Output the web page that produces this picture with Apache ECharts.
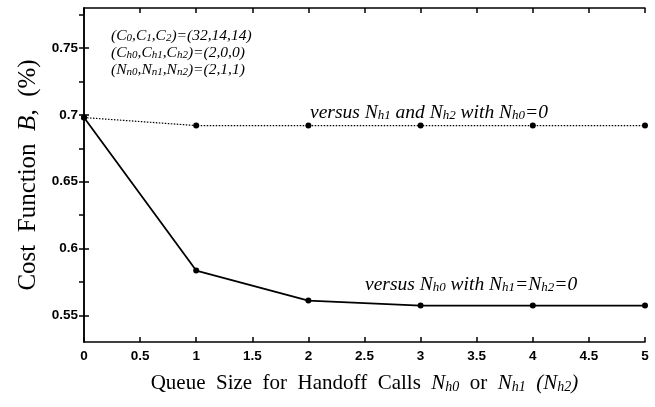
<!DOCTYPE html>
<html style="height: 100%">
<head>
  <meta charset="utf-8">
</head>
<body style="height: 100%; margin: 0; background: #fff">
  <div id="container" style="width: 655px; height: 407px"></div>
  <script type="text/javascript" src="https://cdn.jsdelivr.net/npm/echarts@6/dist/echarts.min.js"></script>
  <script type="text/javascript">
    // queue size for handoff calls
    var queueSizes = [0, 1, 2, 3, 4, 5];
    // cost function B (%) versus Nh1 and Nh2 with Nh0 = 0
    var costVsNh12 = [0.698, 0.692, 0.692, 0.692, 0.692, 0.692];
    // cost function B (%) versus Nh0 with Nh1 = Nh2 = 0
    var costVsNh0 = [0.698, 0.5835, 0.561, 0.5573, 0.5573, 0.5573];
    var yTicks = [0.55, 0.6, 0.65, 0.7, 0.75];
    var yMinorTicks = [0.55, 0.575, 0.6, 0.625, 0.65, 0.675, 0.7, 0.725, 0.75, 0.775];

    var dom = document.getElementById('container');
    var myChart = echarts.init(dom, null, { renderer: 'canvas' });

    var serif = '"Liberation Serif", "DejaVu Serif", serif';
    var tickFont = { fontFamily: '"Liberation Sans", Arial, sans-serif', fontWeight: 'bold', fontSize: 13.5, color: '#000' };

    var option = {
      animation: false,
      backgroundColor: '#fff',
      grid: { left: 84, right: 10, top: 8, bottom: 65 },
      xAxis: [{
        type: 'value', min: 0, max: 5, interval: 0.5,
        axisLine: { lineStyle: { color: '#000', width: 1.5 } },
        axisTick: { inside: true, length: 5, lineStyle: { color: '#000', width: 1.5 } },
        axisLabel: Object.assign({ margin: 7 }, tickFont),
        splitLine: { show: false },
        name: '{t|Queue  Size  for  Handoff  Calls  }{i|N}{s|h0}{t|  or  }{i|N}{s|h1}{i|  (N}{s|h2}{i|)}',
        nameLocation: 'middle', nameGap: 31,
        nameTextStyle: {
          rich: {
            t: { fontFamily: serif, fontSize: 21, color: '#000' },
            i: { fontFamily: serif, fontStyle: 'italic', fontSize: 21, color: '#000' },
            s: { fontFamily: serif, fontStyle: 'italic', fontSize: 14, color: '#000', padding: [7, 0, 0, 0] }
          }
        }
      }, {
        type: 'value', position: 'top', min: 0, max: 5, interval: 0.5,
        axisLine: { lineStyle: { color: '#000', width: 1.5 } },
        axisTick: { inside: true, length: 5, lineStyle: { color: '#000', width: 1.5 } },
        axisLabel: { show: false }, splitLine: { show: false }
      }],
      yAxis: [{
        type: 'value', min: 0.53, max: 0.78,
        axisLine: { lineStyle: { color: '#000', width: 1.5 } },
        axisTick: { inside: true, length: 5, lineStyle: { color: '#000', width: 1.5 }, customValues: yTicks },
        axisLabel: Object.assign({ margin: 6, customValues: yTicks }, tickFont),
        splitLine: { show: false },
        name: '{t|Cost  Function  }{i|B}{t|,  (%)}',
        nameLocation: 'middle', nameGap: 42,
        nameTextStyle: {
          rich: {
            t: { fontFamily: serif, fontSize: 25, color: '#000' },
            i: { fontFamily: serif, fontStyle: 'italic', fontSize: 25, color: '#000' }
          }
        }
      }, {
        type: 'value', position: 'right', min: 0.53, max: 0.78,
        axisLine: { lineStyle: { color: '#000', width: 1.5 } },
        axisTick: { inside: true, length: 5, lineStyle: { color: '#000', width: 1.5 }, customValues: yMinorTicks },
        axisLabel: { show: false }, splitLine: { show: false }
      }],
      series: [{
        type: 'line',
        data: queueSizes.map(function (x, i) { return [x, costVsNh12[i]]; }),
        symbol: 'circle', symbolSize: 6,
        lineStyle: { color: '#000', width: 1.2, type: [1.5, 1.5] },
        itemStyle: { color: '#000' }
      }, {
        type: 'line',
        data: queueSizes.map(function (x, i) { return [x, costVsNh0[i]]; }),
        symbol: 'circle', symbolSize: 6,
        lineStyle: { color: '#000', width: 1.8 },
        itemStyle: { color: '#000' }
      }],
      graphic: [{
        type: 'text', left: 111, top: 28,
        style: {
          text: '{i|(C}{s|0}{i|,C}{s|1}{i|,C}{s|2}{i|)=(32,14,14)}\n{i|(C}{s|h0}{i|,C}{s|h1}{i|,C}{s|h2}{i|)=(2,0,0)}\n{i|(N}{s|n0}{i|,N}{s|n1}{i|,N}{s|n2}{i|)=(2,1,1)}',
          rich: {
            i: { fontFamily: serif, fontStyle: 'italic', fontSize: 15.5, lineHeight: 17, fill: '#000' },
            s: { fontFamily: serif, fontStyle: 'italic', fontSize: 11, lineHeight: 17, fill: '#000', padding: [4, 0, 0, 0] }
          }
        }
      }, {
        type: 'text', left: 310, top: 103,
        style: {
          text: '{i|versus N}{s|h1}{i| and N}{s|h2}{i| with N}{s|h0}{i|=0}',
          rich: {
            i: { fontFamily: serif, fontStyle: 'italic', fontSize: 19.5, fill: '#000' },
            s: { fontFamily: serif, fontStyle: 'italic', fontSize: 13, fill: '#000', padding: [6, 0, 0, 0] }
          }
        }
      }, {
        type: 'text', left: 365, top: 275,
        style: {
          text: '{i|versus N}{s|h0}{i| with N}{s|h1}{i|=N}{s|h2}{i|=0}',
          rich: {
            i: { fontFamily: serif, fontStyle: 'italic', fontSize: 19.5, fill: '#000' },
            s: { fontFamily: serif, fontStyle: 'italic', fontSize: 13, fill: '#000', padding: [6, 0, 0, 0] }
          }
        }
      }]
    };

    myChart.setOption(option);
  </script>
</body>
</html>
